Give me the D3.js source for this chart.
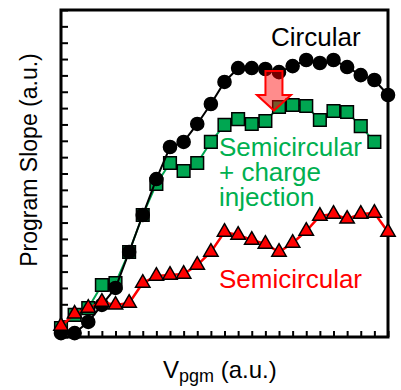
<!DOCTYPE html>
<html>
<head>
<meta charset="utf-8">
<script src="https://cdn.jsdelivr.net/npm/d3@7"></script>
<style>
  html, body { margin: 0; padding: 0; background: #fff; }
  svg { display: block; font-family: "Liberation Sans", Arial, sans-serif; }
</style>
</head>
<body>
<svg id="chart" width="401" height="390"></svg>
<script>
// Program voltage steps (a.u.), one per x tick
const vSteps = d3.range(0, 25);

// Program slope (a.u.) for each cell geometry
const circular = [0.24, 0.24, 0.92, 1.96, 3.0, 5.2, 7.46, 9.66, 11.62, 11.93, 13.03, 14.25, 15.6,
  16.45, 16.45, 16.39, 16.2, 16.57, 16.94, 16.76, 16.94, 16.51, 16.02, 15.72, 14.8];
const semiCharge = [0.55, 1.35, 1.77, 3.18, 3.3, 5.2, 7.46, 9.36, 10.64, 10.15, 10.64, 11.93, 12.97,
  13.33, 13.03, 13.21, 14.07, 14.19, 14.13, 13.27, 13.82, 13.76, 12.9, 11.93];
const semicircular = [0.67, 1.41, 1.77, 2.14, 1.96, 2.08, 3.3, 3.73, 3.79, 3.85, 4.4, 5.2, 6.42,
  6.24, 5.93, 5.69, 5.2, 5.75, 6.48, 7.4, 7.52, 7.22, 7.52, 7.58, 6.42];

// Unlabelled tick positions
const xTicks = d3.range(0, 25);
const yTicks = d3.range(0, 21);

// Arrow annotation: from the circular curve down to the charge-injection curve
const arrowX = 15.63;
const arrowFrom = 16.27;
const arrowTo = 13.85;

const svg = d3.select("#chart");
const plotL = 61, plotR = 388, plotT = 10, plotB = 337;

const x = d3.scaleLinear().domain([0, 24]).range([plotL, plotR]);
const y = d3.scaleLinear().domain([0, 20]).range([plotB, plotT]);

// Inward tick marks
const yAxis = svg.append("g")
  .attr("transform", `translate(${plotL},0)`)
  .call(d3.axisLeft(y).tickValues(yTicks).tickSize(-7).tickFormat(""));
yAxis.select(".domain").remove();
yAxis.selectAll("line").attr("stroke", "#000").attr("stroke-width", 2);

const xAxis = svg.append("g")
  .attr("transform", `translate(0,${plotB})`)
  .call(d3.axisBottom(x).tickValues(xTicks).tickSize(-6).tickFormat(""));
xAxis.select(".domain").remove();
xAxis.selectAll("line").attr("stroke", "#000").attr("stroke-width", 2);

// Plot frame
svg.append("rect")
  .attr("x", plotL).attr("y", plotT)
  .attr("width", plotR - plotL).attr("height", plotB - plotT)
  .attr("fill", "none").attr("stroke", "#000").attr("stroke-width", 3);

function drawSeries(values, lineColor, lineWidth, symbol, size, fill) {
  const pts = values.map((v, i) => [x(vSteps[i]), y(v)]);
  svg.append("path")
    .attr("d", d3.line()(pts))
    .attr("fill", "none")
    .attr("stroke", lineColor)
    .attr("stroke-width", lineWidth);
  svg.append("g").selectAll("path")
    .data(pts)
    .join("path")
    .attr("transform", d => `translate(${d[0]},${d[1]})`)
    .attr("d", d3.symbol().type(symbol).size(size))
    .attr("fill", fill)
    .attr("stroke", "#000")
    .attr("stroke-width", 1.5);
}

drawSeries(semiCharge, "#00a651", 2, d3.symbolSquare, 160, "#00a651");
drawSeries(circular, "#000", 2, d3.symbolCircle, 135, "#000");
drawSeries(semicircular, "#ff0000", 2.5, d3.symbolTriangle, 90, "#ff0000");

// Down arrow
const ax = x(arrowX), ay0 = y(arrowFrom), ay1 = y(arrowTo);
const shaftHalf = 8.5, headHalf = 17, headH = 15.5;
const arrowPts = [
  [ax - shaftHalf, ay0], [ax + shaftHalf, ay0], [ax + shaftHalf, ay1 - headH],
  [ax + headHalf, ay1 - headH], [ax, ay1], [ax - headHalf, ay1 - headH],
  [ax - shaftHalf, ay1 - headH]
];
svg.append("path")
  .attr("d", d3.line()(arrowPts) + "Z")
  .attr("fill", "#ff0000").attr("fill-opacity", 0.45)
  .attr("stroke", "#ff0000").attr("stroke-width", 2)
  .attr("stroke-linejoin", "miter");

// Series labels
svg.append("text").attr("x", 271).attr("y", 46)
  .attr("font-size", 26).attr("fill", "#000").text("Circular");

const g = svg.append("text").attr("font-size", 26).attr("fill", "#00b050");
g.append("tspan").attr("x", 219).attr("y", 156).text("Semicircular");
g.append("tspan").attr("x", 219).attr("y", 181).text("+ charge");
g.append("tspan").attr("x", 219).attr("y", 206).text("injection");

svg.append("text").attr("x", 219).attr("y", 288)
  .attr("font-size", 26).attr("fill", "#ff0000").text("Semicircular");

// Axis titles
svg.append("text")
  .attr("transform", "translate(37,160) rotate(-90)")
  .attr("text-anchor", "middle")
  .attr("font-size", 23).attr("fill", "#000")
  .text("Program Slope (a.u.)");

const xl = svg.append("text").attr("x", 163).attr("y", 378)
  .attr("font-size", 24).attr("fill", "#000");
xl.append("tspan").text("V");
xl.append("tspan").attr("font-size", 18).attr("dy", 4).text("pgm");
xl.append("tspan").attr("dy", -4).text(" (a.u.)");
</script>
</body>
</html>
